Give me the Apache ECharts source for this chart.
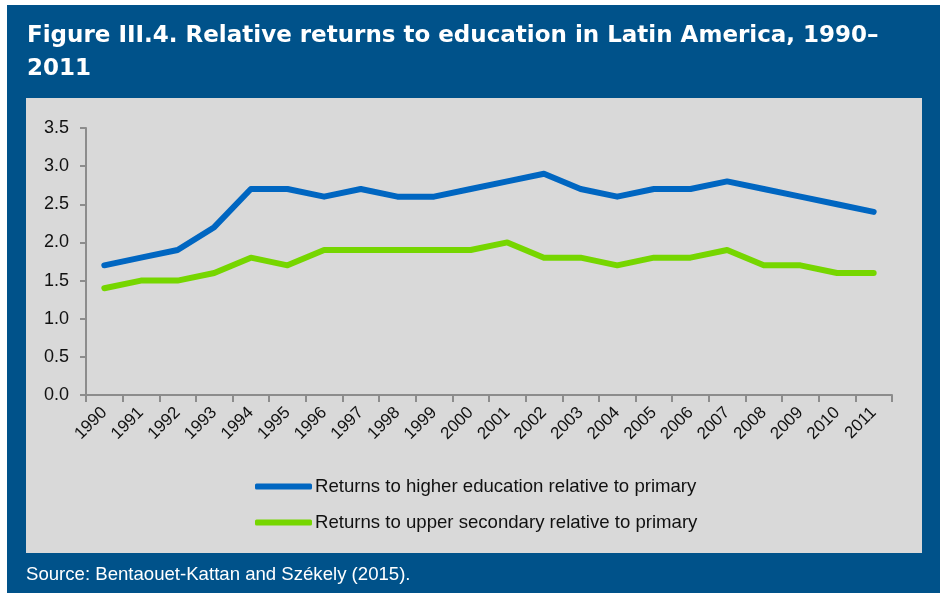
<!DOCTYPE html>
<html>
<head>
<meta charset="utf-8">
<script src="https://cdn.jsdelivr.net/npm/echarts@6/dist/echarts.min.js"></script>
<style>
  html, body { margin: 0; padding: 0; background: #ffffff; }
  #chart { width: 940px; height: 594px; }
</style>
</head>
<body>
<div id="chart"></div>
<script>
// Survey years
var years = ['1990','1991','1992','1993','1994','1995','1996','1997','1998','1999','2000',
             '2001','2002','2003','2004','2005','2006','2007','2008','2009','2010','2011'];

// Returns to higher education relative to primary
var higherEd = [1.7, 1.8, 1.9, 2.2, 2.7, 2.7, 2.6, 2.7, 2.6, 2.6, 2.7,
                2.8, 2.9, 2.7, 2.6, 2.7, 2.7, 2.8, 2.7, 2.6, 2.5, 2.4];

// Returns to upper secondary relative to primary
var upperSec = [1.4, 1.5, 1.5, 1.6, 1.8, 1.7, 1.9, 1.9, 1.9, 1.9, 1.9,
                2.0, 1.8, 1.8, 1.7, 1.8, 1.8, 1.9, 1.7, 1.7, 1.6, 1.6];

var seriesNames = ['Returns to higher education relative to primary',
                   'Returns to upper secondary relative to primary'];

var titleText = 'Figure III.4. Relative returns to education in Latin America, 1990–\n2011';
var sourceText = 'Source: Bentaouet-Kattan and Székely (2015).';

var FONT = 'Arial, "Liberation Sans", sans-serif';
var TITLE_FONT = '"DejaVu Sans", Arial, sans-serif';
var NAVY = '#00528a';
var PANEL = '#d9d9d9';
var BLUE = '#0066c1';
var GREEN = '#76d600';

var chart = echarts.init(document.getElementById('chart'), null, { renderer: 'canvas' });

chart.setOption({
  animation: false,
  backgroundColor: '#ffffff',
  graphic: [
    { type: 'rect', z: -10, shape: { x: 7, y: 5, width: 933, height: 588 }, style: { fill: NAVY } },
    { type: 'rect', z: -9, shape: { x: 26, y: 98, width: 896, height: 455 }, style: { fill: PANEL } },
    { type: 'text', left: 26, top: 565, style: { text: sourceText, fill: '#ffffff', font: '18.6px ' + FONT } }
  ],
  title: {
    text: titleText,
    left: 22,
    top: 15,
    textStyle: { color: '#ffffff', fontFamily: TITLE_FONT, fontWeight: 'bold', fontSize: 23, lineHeight: 33 }
  },
  legend: {
    orient: 'vertical',
    left: 250,
    top: 472,
    itemWidth: 57,
    itemHeight: 6,
    itemGap: 17,
    icon: 'roundRect',
    textStyle: { color: '#111111', fontFamily: FONT, fontSize: 18.6, padding: [0, 0, 0, -2] },
    data: seriesNames
  },
  grid: { left: 86, top: 128, width: 806, height: 267, containLabel: false },
  xAxis: {
    type: 'category',
    data: years,
    boundaryGap: true,
    axisLine: { lineStyle: { color: '#8c8c8c', width: 2 } },
    axisTick: { show: true, length: 7, lineStyle: { color: '#8c8c8c', width: 2 } },
    axisLabel: { rotate: 45, color: '#111111', fontFamily: FONT, fontSize: 17, interval: 0, margin: 15 },
    splitLine: { show: false }
  },
  yAxis: {
    type: 'value',
    min: 0,
    max: 3.5,
    interval: 0.5,
    axisLine: { show: true, lineStyle: { color: '#8c8c8c', width: 2 } },
    axisTick: { show: true, length: 6, lineStyle: { color: '#8c8c8c', width: 2 } },
    axisLabel: { color: '#111111', fontFamily: FONT, fontSize: 18, margin: 17,
                 formatter: function (v) { return v.toFixed(1); } },
    splitLine: { show: false }
  },
  series: [
    {
      name: seriesNames[0], type: 'line', data: higherEd, showSymbol: false,
      lineStyle: { color: BLUE, width: 6, cap: 'round', join: 'round' },
      itemStyle: { color: BLUE }
    },
    {
      name: seriesNames[1], type: 'line', data: upperSec, showSymbol: false,
      lineStyle: { color: GREEN, width: 6, cap: 'round', join: 'round' },
      itemStyle: { color: GREEN }
    }
  ]
});
</script>
</body>
</html>
